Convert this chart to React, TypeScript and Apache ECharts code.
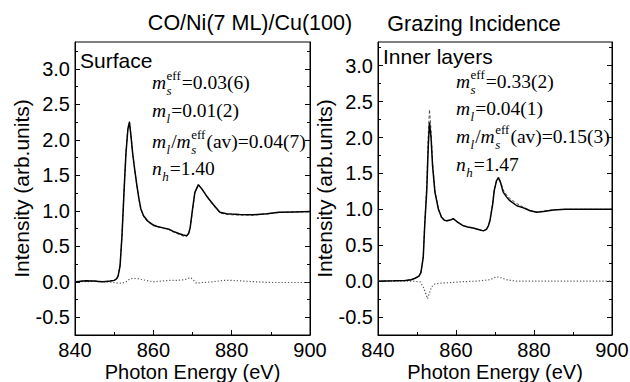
import React, { useEffect, useRef } from "react";
import * as echarts from "echarts";

// ---------- data ----------
const xTickLabels = [840, 860, 880, 900];
const yMajorTicks = [-0.5, 0, 0.5, 1.0, 1.5, 2.0, 2.5, 3.0];
const yMinorTicks = [-0.75, -0.25, 0.25, 0.75, 1.25, 1.75, 2.25, 2.75, 3.25];

// Surface panel
const surfaceSum: [number, number][] = [
  [840, 0.0], [841, 0.005], [842, 0.01], [843, 0.015], [844, 0.012], [845, 0.01],
  [846, 0.005], [847, 0.0], [848, 0.005], [849, 0.01], [850, 0.02], [850.6, 0.04],
  [851.0, 0.08], [851.5, 0.22], [852.0, 0.65], [852.5, 1.25], [853.0, 1.8],
  [853.5, 2.15], [853.9, 2.25], [854.3, 2.05], [854.7, 1.82], [855.2, 1.6],
  [855.8, 1.36], [856.3, 1.18], [856.8, 1.03], [857.5, 0.93], [858.5, 0.86],
  [860, 0.8], [861, 0.78], [862.5, 0.76], [864, 0.74], [865.1, 0.71], [866.5, 0.68],
  [867.6, 0.66], [868.5, 0.65], [869.0, 0.68], [869.4, 0.76], [870.0, 1.02],
  [870.6, 1.26], [871.5, 1.37], [872.5, 1.3], [873.6, 1.21], [875.3, 1.09],
  [877, 0.98], [878.7, 0.96], [880, 0.955], [882, 0.95], [885.5, 0.945],
  [889, 0.96], [892, 0.98], [896, 0.985], [900, 0.99],
];
const surfaceFit: [number, number][] = [
  [840, 0.0], [842, 0.01], [844, 0.01], [846, 0.005], [848, 0.005], [850, 0.02],
  [850.6, 0.04], [851.0, 0.08], [851.5, 0.23], [852.0, 0.66], [852.5, 1.26],
  [853.0, 1.82], [853.5, 2.17], [853.9, 2.26], [854.3, 2.06], [854.7, 1.83],
  [855.2, 1.6], [855.8, 1.35], [856.3, 1.17], [856.8, 1.02], [857.5, 0.92],
  [858.5, 0.85], [860, 0.79], [862.5, 0.755], [864, 0.735], [865.1, 0.7],
  [866.5, 0.67], [867.6, 0.645], [868.5, 0.64], [869.0, 0.67], [869.4, 0.75],
  [870.0, 1.0], [870.6, 1.25], [871.5, 1.36], [872.5, 1.3], [873.6, 1.2],
  [875.3, 1.08], [877, 0.97], [878.7, 0.95], [880, 0.945], [882, 0.94],
  [885.5, 0.94], [889, 0.955], [892, 0.975], [896, 0.985], [900, 0.985],
];
const surfaceDiff: [number, number][] = [
  [840, 0.0], [845, 0.005], [848, 0.0], [850, -0.01], [851, -0.02], [852, -0.02],
  [853, 0.0], [854, 0.04], [855, 0.05], [856.5, 0.04], [858, 0.02], [860, 0.0],
  [862, 0.01], [864, 0.02], [866, 0.02], [868, 0.03], [869.5, 0.06], [870.3, 0.02],
  [871, -0.02], [872.5, -0.01], [875, 0.0], [878, 0.02], [880, 0.02], [883, 0.01],
  [886, 0.0], [890, -0.01], [895, -0.01], [900, -0.01],
];

// Inner layers panel
const innerSum: [number, number][] = [
  [840, 0.0], [844, 0.005], [847, 0.01], [848.5, 0.02], [849.5, 0.04], [850.5, 0.07],
  [851.0, 0.12], [851.6, 0.33], [852.0, 0.8], [852.5, 1.26], [852.9, 1.9],
  [853.2, 2.21], [853.6, 2.0], [854.0, 1.6], [854.6, 1.24], [855.5, 1.0],
  [856.3, 0.89], [857.0, 0.85], [857.6, 0.84], [858.5, 0.85], [859.3, 0.87],
  [860.2, 0.83], [861.0, 0.8], [861.9, 0.77], [863, 0.755], [864.4, 0.74],
  [866, 0.715], [867, 0.7], [867.8, 0.72], [868.3, 0.77], [868.7, 0.84],
  [869.4, 1.07], [869.8, 1.26], [870.4, 1.4], [870.9, 1.44], [871.5, 1.36],
  [872.1, 1.24], [873, 1.17], [873.8, 1.12], [875.6, 1.05], [877.3, 1.02],
  [879, 0.98], [880.7, 0.96], [882.4, 0.97], [885, 0.99], [888, 1.0], [900, 1.0],
];
const innerFit: [number, number][] = [
  [840, 0.0], [844, 0.005], [847, 0.01], [848.5, 0.02], [849.5, 0.04], [850.5, 0.07],
  [851.0, 0.12], [851.6, 0.34], [852.0, 0.83], [852.5, 1.35], [852.9, 2.05],
  [853.2, 2.39], [853.6, 2.1], [854.0, 1.65], [854.6, 1.26], [855.5, 1.0],
  [856.3, 0.88], [857.0, 0.84], [857.6, 0.835], [858.5, 0.85], [859.3, 0.86],
  [860.2, 0.83], [861.0, 0.8], [861.9, 0.77], [863, 0.755], [864.4, 0.74],
  [866, 0.715], [867, 0.7], [867.8, 0.72], [868.3, 0.77], [868.7, 0.85],
  [869.4, 1.08], [869.8, 1.27], [870.4, 1.41], [870.9, 1.45], [871.5, 1.38],
  [872.1, 1.27], [873, 1.2], [873.8, 1.15], [875.6, 1.08], [877.3, 1.03],
  [879, 0.985], [880.7, 0.965], [882.4, 0.975], [885, 0.995], [888, 1.0], [900, 1.0],
];
const innerDiff: [number, number][] = [
  [840, 0.0], [849, 0.0], [850.8, -0.01], [851.6, -0.08], [852.3, -0.18],
  [852.7, -0.245], [853.1, -0.18], [853.7, -0.08], [854.6, -0.04], [855.9, -0.03],
  [858.5, -0.02], [861, -0.01], [865.3, 0.0], [868.7, 0.02], [870.4, 0.06],
  [871.3, 0.05], [873, 0.02], [875.6, 0.0], [880, 0.0], [900, 0.0],
];

const panelTitles = ["CO/Ni(7 ML)/Cu(100)", "Grazing Incidence"];
const panelLabels = ["Surface", "Inner layers"];
const msEff = ["0.03(6)", "0.33(2)"];
const mlVal = ["0.01(2)", "0.04(1)"];
const ratioVal = ["0.04(7)", "0.15(3)"];
const nhVal = ["1.40", "1.47"];

// ---------- layout helpers ----------
const SANS = "'Liberation Sans', Arial, sans-serif";
const SERIF = "'Liberation Serif', 'Times New Roman', serif";
const MAIN = 19.5;
const SMALL = 13;

let measureCtx: CanvasRenderingContext2D | null = null;
function measure(text: string, size: number, italic: boolean) {
  if (!measureCtx) measureCtx = document.createElement("canvas").getContext("2d");
  if (!measureCtx) return text.length * size * 0.5;
  measureCtx.font = `${italic ? "italic " : ""}${size}px 'Liberation Serif'`;
  return measureCtx.measureText(text).width;
}

type Seg = { t: string; k: "it" | "rm" | "sub" | "subsup"; t2?: string };

function textEl(x: number, y: number, text: string, size: number, italic: boolean, family = SERIF) {
  return {
    type: "text",
    x,
    y,
    silent: true,
    style: {
      text,
      fontSize: size,
      fontFamily: family,
      fontStyle: italic ? "italic" : "normal",
      fill: "#000",
      textAlign: "left",
      align: "left",
      textVerticalAlign: "middle",
      verticalAlign: "middle",
    },
  };
}

function buildLine(x0: number, yc: number, segs: Seg[]) {
  const els: any[] = [];
  let x = x0;
  for (const s of segs) {
    if (s.k === "it" || s.k === "rm") {
      els.push(textEl(x, yc, s.t, MAIN, s.k === "it"));
      x += measure(s.t, MAIN, s.k === "it");
    } else if (s.k === "sub") {
      els.push(textEl(x + 0.5, yc + 8, s.t, SMALL, true));
      x += measure(s.t, SMALL, true) + 1.5;
    } else {
      els.push(textEl(x + 0.5, yc + 8, s.t, SMALL, true));
      els.push(textEl(x + 0.5, yc - 7, s.t2 || "", SMALL, false));
      x += Math.max(measure(s.t, SMALL, true), measure(s.t2 || "", SMALL, false)) + 1.5;
    }
  }
  return els;
}

function annotation(i: number, x0: number, ys: number[]) {
  return [
    ...buildLine(x0, ys[0], [
      { t: "m", k: "it" },
      { t: "s", k: "subsup", t2: "eff" },
      { t: "=" + msEff[i], k: "rm" },
    ]),
    ...buildLine(x0, ys[1], [
      { t: "m", k: "it" },
      { t: "l", k: "sub" },
      { t: "=" + mlVal[i], k: "rm" },
    ]),
    ...buildLine(x0, ys[2], [
      { t: "m", k: "it" },
      { t: "l", k: "sub" },
      { t: "/", k: "rm" },
      { t: "m", k: "it" },
      { t: "s", k: "subsup", t2: "eff" },
      { t: "(av)=" + ratioVal[i], k: "rm" },
    ]),
    ...buildLine(x0, ys[3], [
      { t: "n", k: "it" },
      { t: "h", k: "sub" },
      { t: "=" + nhVal[i], k: "rm" },
    ]),
  ];
}

const grids = [
  { left: 75, right: 320, top: 42, bottom: 47 },
  { left: 378, right: 18, top: 42, bottom: 47 },
];
const yMax = [3.38, 3.33];
const yMin = -0.75;
const yNameGap = [43, 40];

function xAxisFor(i: number) {
  return {
    type: "value",
    gridIndex: i,
    min: 840,
    max: 900,
    interval: 20,
    axisLine: { show: true, onZero: false, lineStyle: { color: "#000", width: 1 } },
    axisTick: { show: true, inside: true, length: 5, lineStyle: { color: "#000" } },
    minorTick: { show: true, splitNumber: 2, length: 3, lineStyle: { color: "#000" } },
    splitLine: { show: false },
    minorSplitLine: { show: false },
    axisLabel: {
      color: "#000",
      fontSize: 20,
      lineHeight: 18,
      fontFamily: SANS,
      margin: 5.5,
      formatter: (v: number) => (xTickLabels.includes(v) ? String(v) : ""),
    },
    name: "Photon Energy (eV)",
    nameLocation: "middle",
    nameGap: 26.5,
    nameMoveOverlap: false,
    nameTextStyle: { color: "#000", fontSize: 20, lineHeight: 20, fontFamily: SANS },
  };
}

function yAxesFor(i: number) {
  const base = {
    type: "value",
    gridIndex: i,
    min: yMin,
    max: yMax[i],
    splitLine: { show: false },
  };
  return [
    {
      ...base,
      position: "left",
      axisLine: { show: true, onZero: false, lineStyle: { color: "#000", width: 1 } },
      axisTick: { show: true, inside: true, length: 5, customValues: yMajorTicks, lineStyle: { color: "#000" } },
      axisLabel: {
        show: true,
        customValues: yMajorTicks,
        color: "#000",
        fontSize: 20,
        fontFamily: SANS,
        margin: 5,
        formatter: (v: number) => v.toFixed(1),
      },
      name: "Intensity (arb.units)",
      nameLocation: "middle",
      nameRotate: 90,
      nameGap: yNameGap[i],
      nameTextStyle: { color: "#000", fontSize: 21, fontFamily: SANS },
    },
    {
      ...base,
      position: "left",
      axisLine: { show: false, onZero: false },
      axisTick: { show: true, inside: true, length: 3, customValues: yMinorTicks, lineStyle: { color: "#000" } },
      axisLabel: { show: false },
    },
    {
      ...base,
      position: "right",
      axisLine: { show: true, onZero: false, lineStyle: { color: "#000", width: 1 } },
      axisTick: { show: true, inside: true, length: 5, customValues: yMajorTicks, lineStyle: { color: "#000" } },
      axisLabel: { show: false },
    },
    {
      ...base,
      position: "right",
      axisLine: { show: false, onZero: false },
      axisTick: { show: true, inside: true, length: 3, customValues: yMinorTicks, lineStyle: { color: "#000" } },
      axisLabel: { show: false },
    },
  ];
}

function seriesFor(i: number, sum: [number, number][], fit: [number, number][], diff: [number, number][]) {
  const common = { type: "line", xAxisIndex: i, yAxisIndex: i * 4, showSymbol: false, symbol: "none", silent: true };
  return [
    { ...common, name: "fit" + i, data: fit, lineStyle: { color: "#555", width: 1, type: [3, 2] }, z: 2 },
    { ...common, name: "sum" + i, data: sum, lineStyle: { color: "#000", width: 1.5 }, z: 3 },
    { ...common, name: "diff" + i, data: diff, lineStyle: { color: "#555", width: 1.2, type: [1.2, 2] }, z: 2 },
  ];
}

function sansText(x: number, y: number, text: string, size: number, align: string) {
  return {
    type: "text",
    x,
    y,
    silent: true,
    style: { text, fontSize: size, fontFamily: SANS, fill: "#000", textAlign: align, align, textVerticalAlign: "middle", verticalAlign: "middle" },
  };
}

export default function App() {
  const ref = useRef<HTMLDivElement>(null);
  useEffect(() => {
    if (!ref.current) return;
    const chart = echarts.init(ref.current, null, { renderer: "svg" });
    const graphic: any[] = [
      sansText(250, 23, panelTitles[0], 21.5, "center"),
      sansText(474, 24, panelTitles[1], 21.5, "center"),
      sansText(80, 60, panelLabels[0], 21, "left"),
      sansText(383, 56, panelLabels[1], 21, "left"),
      ...annotation(0, 152, [82, 110, 141, 168]),
      ...annotation(1, 456, [81, 108, 136, 164]),
    ];
    chart.setOption({
      animation: false,
      backgroundColor: "#fff",
      grid: grids.map((g) => ({
        ...g,
        show: true,
        borderColor: "#000",
        borderWidth: 1,
        containLabel: false,
        outerBoundsMode: "none",
      })),
      xAxis: [xAxisFor(0), xAxisFor(1)],
      yAxis: [...yAxesFor(0), ...yAxesFor(1)],
      series: [
        ...seriesFor(0, surfaceSum, surfaceFit, surfaceDiff),
        ...seriesFor(1, innerSum, innerFit, innerDiff),
      ],
      graphic,
    });
    return () => chart.dispose();
  }, []);
  return (
    <div
      ref={ref}
      style={{ position: "fixed", left: 0, top: 0, width: 630, height: 382, background: "#fff" }}
    />
  );
}
